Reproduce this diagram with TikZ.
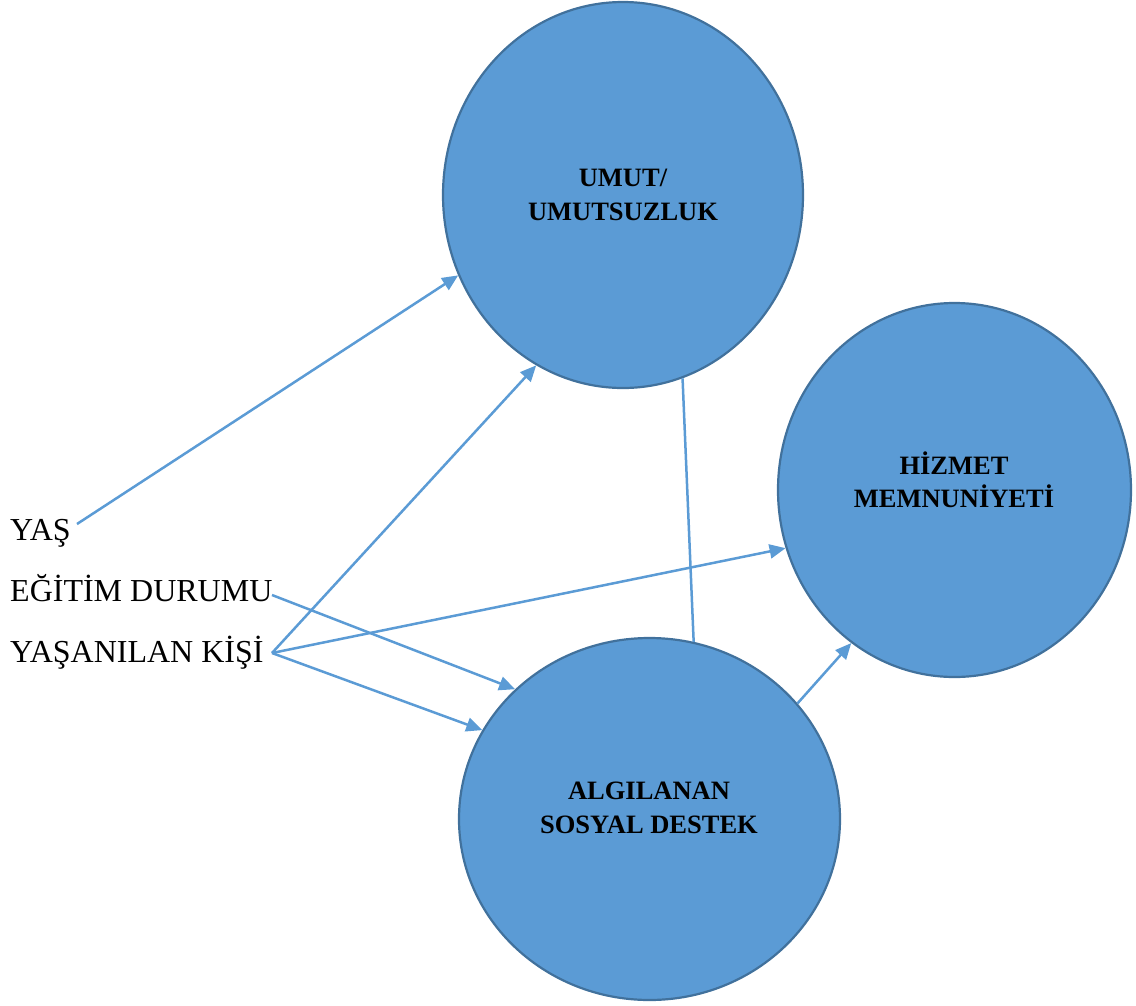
\documentclass[tikz,border=0pt]{standalone}
\usepackage{fontspec}
\setmainfont{Liberation Serif}
\usetikzlibrary{shapes.geometric,arrows.meta}
\definecolor{cfill}{HTML}{5B9BD5}
\definecolor{cedge}{HTML}{41719C}
\definecolor{carrow}{HTML}{5B9BD5}
\tikzset{
  bubble/.style={ellipse, draw=cedge, fill=cfill, line width=2.2pt, inner sep=0pt},
  inlbl/.style={align=center, font=\fontsize{26.5}{33.5}\selectfont\bfseries, inner sep=0pt},
  sidelbl/.style={anchor=base west, font=\fontsize{32}{40}\selectfont, inner sep=0pt},
  conn/.style={draw=carrow, line width=2.5pt},
  arr/.style={conn, -{Triangle[length=16pt,width=14pt]}}
}
\begin{document}
\begin{tikzpicture}[x=1pt,y=-1pt]
\useasboundingbox (0,0) rectangle (1136,1005);
% bubbles
\node[bubble, minimum width=360pt, minimum height=386pt] (umut) at (623,195) {};
\node[bubble, minimum width=353pt, minimum height=374pt] (hiz) at (954.5,490) {};
\node[bubble, minimum width=381pt, minimum height=362pt] (alg) at (649.5,819) {};
\node[inlbl] (tumut) at (623,195) {UMUT/\\UMUTSUZLUK};
\node[inlbl] (thiz) at (954,480) {HİZMET\\MEMNUNİYETİ};
\node[inlbl] (talg) at (649,808) {ALGILANAN\\SOSYAL DESTEK};
% side labels
\node[sidelbl] (yas) at (10,540.7) {YAŞ};
\node[sidelbl] (egt) at (10,601.7) {EĞİTİM DURUMU};
\node[sidelbl] (ysn) at (10,662) {YAŞANILAN KİŞİ};
\coordinate (yasE) at (77,524);
\coordinate (egtE) at (272,595);
\coordinate (ysnE) at (272,653);
% connectors
\draw[arr] (yasE) -- (umut.206.3);
\draw[arr] (ysnE) -- (umut.243.6);
\draw[arr] (ysnE) -- (hiz.199.4);
\draw[arr] (ysnE) -- (alg.152.8);
\draw[arr] (egtE) -- (alg.136.6);
\draw[conn] (umut.288.2) -- (alg.76.6);
\draw[arr] (alg.38.4) -- (hiz.236.3);
\end{tikzpicture}
\end{document}
